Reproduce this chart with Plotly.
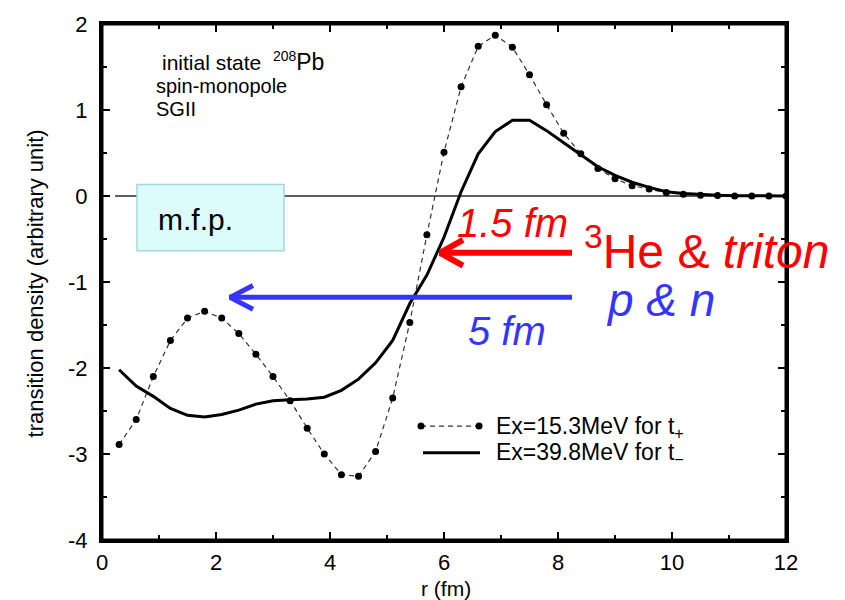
import plotly.graph_objects as go

# radial grid (fm) shared by both transition densities
r_fm = [round(0.3 * k, 1) for k in range(1, 41)]

# Ex = 15.3 MeV, t+ channel (dashed with dots)
rho_tplus = [-2.89, -2.60, -2.10, -1.68, -1.42, -1.34, -1.42, -1.60, -1.84, -2.10,
             -2.38, -2.70, -3.00, -3.24, -3.26, -2.97, -2.35, -1.47, -0.45, 0.51,
             1.27, 1.74, 1.87, 1.73, 1.41, 1.06, 0.73, 0.49, 0.32, 0.20,
             0.12, 0.08, 0.04, 0.02, 0.01, 0.005, 0.0, 0.0, 0.0, 0.0]

# Ex = 39.8 MeV, t- channel (solid)
rho_tminus = [-2.02, -2.21, -2.33, -2.47, -2.55, -2.57, -2.54, -2.49, -2.42, -2.38,
              -2.37, -2.36, -2.34, -2.26, -2.13, -1.94, -1.68, -1.25, -0.92, -0.48,
              0.05, 0.49, 0.75, 0.88, 0.88, 0.76, 0.62, 0.48, 0.34, 0.24,
              0.16, 0.10, 0.05, 0.03, 0.015, 0.008, 0.004, 0.0, 0.0, 0.0]

x_ticks = [0, 2, 4, 6, 8, 10, 12]
x_ticktext = ["0", "2", "4", "6", "8", "10", "12"]
y_ticks = [-4, -3, -2, -1, 0, 1, 2]
y_ticktext = ["-4", "-3", "-2", "-1", "0", "1", "2"]

legend_labels = ["Ex=15.3MeV for t<sub>+</sub>", "Ex=39.8MeV for t<sub>\u2212</sub>"]

W, H = 845, 600
L, R, T, B = 102, 786, 19, 540
FONT = "Liberation Sans, Arial, Helvetica, sans-serif"
RED = "#ff0000"
BLUE = "#3535ff"


def px(xp):
    return (xp - L) / (R - L)


def py(yp):
    return (B - yp) / (B - T)


fig = go.Figure()

fig.add_trace(go.Scatter(
    x=r_fm, y=rho_tplus, mode="lines+markers",
    line=dict(color="#333333", width=1.2, dash="5px,4px"),
    marker=dict(color="black", size=7),
    showlegend=False,
))
fig.add_trace(go.Scatter(
    x=r_fm, y=rho_tminus, mode="lines",
    line=dict(color="black", width=3),
    showlegend=False,
))

shapes = []
# zero reference line
shapes.append(dict(type="line", xref="x", yref="y", x0=0.23, x1=12, y0=0, y1=0,
                   line=dict(color="#2a2a2a", width=1.5), layer="below"))
# plot frame
shapes.append(dict(type="rect", xref="paper", yref="paper", x0=0, x1=1, y0=0, y1=1,
                   line=dict(color="black", width=3), layer="above"))
# mean-free-path box
shapes.append(dict(type="rect", xref="paper", yref="paper",
                   x0=px(137), x1=px(284), y0=py(248), y1=py(181),
                   fillcolor="#dcfbfb", line=dict(color="#a6d6dc", width=1.5), layer="above"))


# arrows (shaft + open chevron head)
def arrow(x_start, x_tip, y, color, width, head_len, head_half):
    out = [dict(type="path", xref="paper", yref="paper",
                path=f"M {px(x_start)},{py(y)} L {px(x_tip)},{py(y)}",
                line=dict(color=color, width=width), layer="above")]
    for s in (-1, 1):
        out.append(dict(type="path", xref="paper", yref="paper",
                        path=f"M {px(x_tip + head_len)},{py(y + s * head_half)} L {px(x_tip + 1)},{py(y)}",
                        line=dict(color=color, width=width), layer="above"))
    return out


shapes += arrow(572, 439, 250, RED, 6, 24, 13)
shapes += arrow(572, 229, 295, BLUE, 5, 24, 12)

# hand-made legend glyphs
shapes.append(dict(type="line", xref="paper", yref="paper",
                   x0=px(421), x1=px(479), y0=py(425), y1=py(425),
                   line=dict(color="#333333", width=1.2, dash="5px,4px")))
for xc in (421, 479):
    shapes.append(dict(type="circle", xref="paper", yref="paper",
                       xsizemode="pixel", ysizemode="pixel",
                       xanchor=px(xc), yanchor=py(425),
                       x0=-3.5, x1=3.5, y0=-3.5, y1=3.5,
                       fillcolor="black", line=dict(width=0)))
shapes.append(dict(type="line", xref="paper", yref="paper",
                   x0=px(423), x1=px(480), y0=py(452), y1=py(452),
                   line=dict(color="black", width=3)))

annotations = []


def text(t, xp, yp, size, color="black", xanchor="left"):
    annotations.append(dict(text=t, xref="paper", yref="paper", x=px(xp), y=py(yp),
                            xanchor=xanchor, yanchor="middle", showarrow=False,
                            font=dict(family=FONT, size=size, color=color)))


text("initial state  <sup><span style='font-size:14px'>208</span></sup><span style='font-size:23px'>Pb</span>",
     160, 57, 21)
text("spin-monopole", 154, 82, 20)
text("SGII", 154, 105, 20)
text("m.f.p.", 156, 216, 30)
text("<i>1.5 fm</i>", 512, 220, 40, RED, "center")
text("<sup>3</sup>He &amp; <i>triton</i>", 582, 245, 48, RED)
text("<i>p &amp; n</i>", 604, 298, 46, BLUE)
text("<i>5 fm</i>", 507, 329, 40, BLUE, "center")
text(legend_labels[0], 494, 426, 23)
text(legend_labels[1], 494, 453, 23)

# axis titles
annotations.append(dict(text="r (fm)", xref="paper", yref="paper", x=px(446), y=py(589),
                        xanchor="center", yanchor="middle", showarrow=False,
                        font=dict(family=FONT, size=21, color="black")))
annotations.append(dict(text="transition density (arbitrary unit)", xref="paper", yref="paper",
                        x=px(35), y=py(281), textangle=-90,
                        xanchor="center", yanchor="middle", showarrow=False,
                        font=dict(family=FONT, size=22, color="black")))

axis_common = dict(
    showline=True, linecolor="black", linewidth=3, mirror="allticks",
    ticks="inside", ticklen=8, tickwidth=2, tickcolor="black",
    showgrid=False, zeroline=False,
    tickfont=dict(family=FONT, size=22, color="black"),
)

fig.update_xaxes(range=[0, 12], tickvals=x_ticks, ticktext=x_ticktext, ticklabelstandoff=1,
                 minor=dict(ticks="inside", dtick=1, ticklen=5, tickwidth=2, tickcolor="black"),
                 **axis_common)
fig.update_yaxes(range=[-4, 2], tickvals=y_ticks, ticktext=y_ticktext, ticklabelstandoff=7,
                 minor=dict(ticks="inside", dtick=0.5, ticklen=5, tickwidth=2, tickcolor="black"),
                 **axis_common)

fig.update_layout(
    width=W, height=H,
    margin=dict(l=L, r=W - R, t=T, b=H - B),
    paper_bgcolor="white", plot_bgcolor="white",
    shapes=shapes, annotations=annotations,
    showlegend=False,
)

fig.write_html("out.html")
